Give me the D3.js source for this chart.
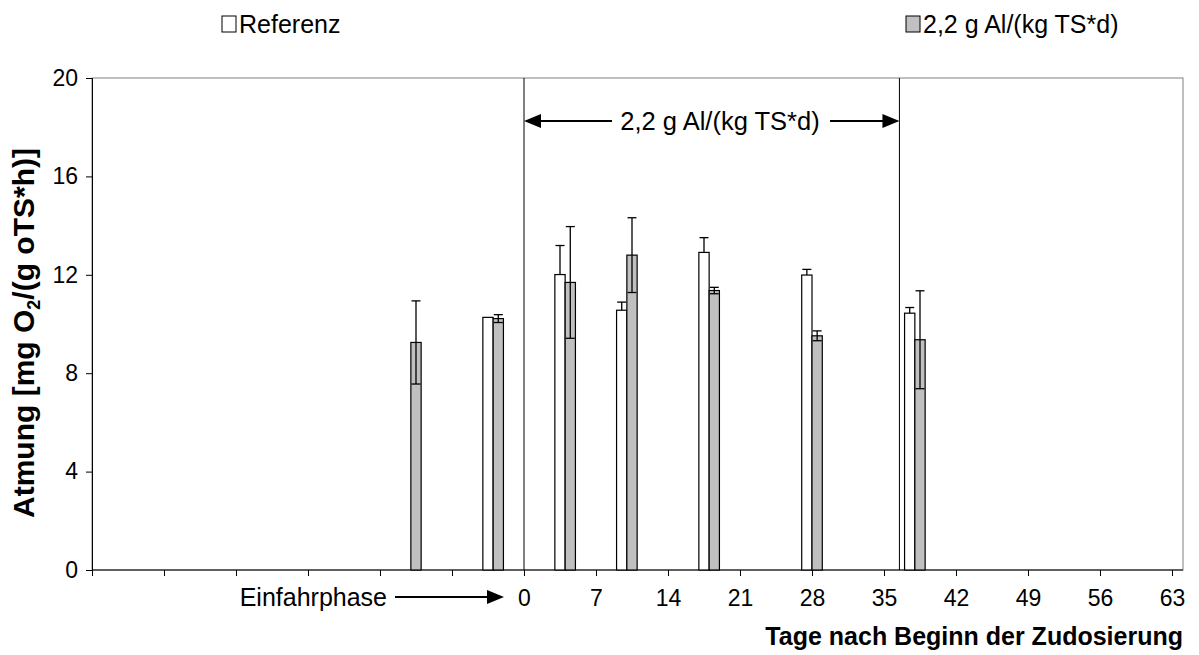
<!DOCTYPE html>
<html>
<head>
<meta charset="utf-8">
<script src="https://cdn.jsdelivr.net/npm/d3@7"></script>
<style>
  body { margin: 0; background: #fff; }
  text { font-family: Arial, "Liberation Sans", sans-serif; fill: #000; }
</style>
</head>
<body>
<script>
// sampling days (days relative to start of dosing)
var days = [-11, -3, 4, 10, 18, 28, 38];
// respiration, reference reactor
var refValues = [null, 10.27, 12.01, 10.56, 12.91, 11.99, 10.44];
var refErr = [null, 0, 1.18, 0.33, 0.60, 0.23, 0.23];
// respiration, 2,2 g Al/(kg TS*d)
var alValues = [9.25, 10.22, 11.69, 12.80, 11.36, 9.52, 9.36];
var alErr = [1.69, 0.16, 2.27, 1.52, 0.13, 0.20, 1.99];

var xTicks = [-42, -35, -28, -21, -14, -7, 0, 7, 14, 21, 28, 35, 42, 49, 56, 63];
var yTicks = [0, 4, 8, 12, 16, 20];
var seriesNames = ["Referenz", "2,2 g Al/(kg TS*d)"];
var dosingStart = 0, dosingEnd = 36.5;

var W = 1199, H = 655;
var plotLeft = 92, plotRight = 1183, plotTop = 78, plotBottom = 570;

var svg = d3.select("body").append("svg")
    .attr("width", W)
    .attr("height", H);

var x = d3.scaleLinear().domain([-42, 63]).range([plotLeft, 1172]);
var y = d3.scaleLinear().domain([0, 20]).range([plotBottom, plotTop]);

// plot area frame
svg.append("rect")
    .attr("x", plotLeft).attr("y", plotTop)
    .attr("width", plotRight - plotLeft).attr("height", plotBottom - plotTop)
    .attr("fill", "none").attr("stroke", "#808080").attr("stroke-width", 1);

// y axis
var yAxis = svg.append("g")
    .attr("transform", "translate(" + plotLeft + ",0)")
    .call(d3.axisLeft(y).tickValues(yTicks).tickSize(6).tickPadding(8));
yAxis.select(".domain").attr("stroke", "#000");
yAxis.selectAll("text").style("font-size", "23px");

// x axis
var xAxis = svg.append("g")
    .attr("transform", "translate(0," + plotBottom + ")")
    .call(d3.axisBottom(x).tickValues(xTicks).tickSize(6).tickPadding(14)
        .tickFormat(function(d) { return d < 0 ? "" : d; }));
xAxis.select(".domain").attr("d", "M" + plotLeft + ",0H" + plotRight).attr("stroke", "#000");
xAxis.selectAll("text").style("font-size", "23px");

// dosing period lines
svg.selectAll(".phase")
    .data([dosingStart, dosingEnd])
  .enter().append("line")
    .attr("x1", function(d) { return x(d); })
    .attr("x2", function(d) { return x(d); })
    .attr("y1", plotTop).attr("y2", plotBottom)
    .attr("stroke", "#000").attr("stroke-width", 1);

// bars
var rows = days.map(function(d, i) {
    return {day: d, ref: refValues[i], refErr: refErr[i], al: alValues[i], alErr: alErr[i]};
});

svg.selectAll(".ref")
    .data(rows.filter(function(d) { return d.ref != null; }))
  .enter().append("rect")
    .attr("x", function(d) { return x(d.day - 1); })
    .attr("width", function(d) { return x(d.day) - x(d.day - 1); })
    .attr("y", function(d) { return y(d.ref); })
    .attr("height", function(d) { return y(0) - y(d.ref); })
    .attr("fill", "#fff").attr("stroke", "#000").attr("stroke-width", 1.2);

svg.selectAll(".al")
    .data(rows)
  .enter().append("rect")
    .attr("x", function(d) { return x(d.day); })
    .attr("width", function(d) { return x(d.day + 1) - x(d.day); })
    .attr("y", function(d) { return y(d.al); })
    .attr("height", function(d) { return y(0) - y(d.al); })
    .attr("fill", "#c0c0c0").attr("stroke", "#000").attr("stroke-width", 1.2);

// error bars: reference only upward, Al both ways
var errs = [];
rows.forEach(function(d) {
    if (d.ref != null && d.refErr > 0)
        errs.push({cx: x(d.day - 0.5), lo: d.ref, hi: d.ref + d.refErr});
    errs.push({cx: x(d.day + 0.5), lo: d.al - d.alErr, hi: d.al + d.alErr, mid: d.al});
});
var eg = svg.append("g").attr("stroke", "#000").attr("stroke-width", 1.3);
errs.forEach(function(e) {
    eg.append("line").attr("x1", e.cx).attr("x2", e.cx).attr("y1", y(e.lo)).attr("y2", y(e.hi));
    eg.append("line").attr("x1", e.cx - 4.5).attr("x2", e.cx + 4.5).attr("y1", y(e.hi)).attr("y2", y(e.hi));
    if (e.mid != null)
        eg.append("line").attr("x1", e.cx - 4.5).attr("x2", e.cx + 4.5).attr("y1", y(e.lo)).attr("y2", y(e.lo));
});

// arrow helper
function arrowHead(tipX, yy, dir) {
    svg.append("path")
        .attr("d", "M" + tipX + "," + yy + "L" + (tipX - dir * 17) + "," + (yy - 7) +
                   "L" + (tipX - dir * 17) + "," + (yy + 7) + "Z")
        .attr("fill", "#000");
}

// dosing annotation
var annY = 121;
svg.append("line").attr("x1", x(dosingStart) + 10).attr("x2", 612)
    .attr("y1", annY).attr("y2", annY).attr("stroke", "#000").attr("stroke-width", 2);
svg.append("line").attr("x1", 830).attr("x2", x(dosingEnd) - 10)
    .attr("y1", annY).attr("y2", annY).attr("stroke", "#000").attr("stroke-width", 2);
arrowHead(x(dosingStart), annY, -1);
arrowHead(x(dosingEnd), annY, 1);
svg.append("text")
    .attr("x", 720).attr("y", annY + 9)
    .attr("text-anchor", "middle")
    .style("font-size", "25.5px")
    .text(seriesNames[1]);

// Einfahrphase annotation
var einY = 597;
svg.append("text")
    .attr("x", 387).attr("y", einY + 9)
    .attr("text-anchor", "end")
    .style("font-size", "25px")
    .text("Einfahrphase");
svg.append("line").attr("x1", 395).attr("x2", 495)
    .attr("y1", einY).attr("y2", einY).attr("stroke", "#000").attr("stroke-width", 2);
arrowHead(504, einY, 1);

// axis titles
svg.append("text")
    .attr("transform", "translate(34," + 333 + ") rotate(-90)")
    .attr("text-anchor", "middle")
    .style("font-size", "30px").style("font-weight", "bold")
    .html('Atmung [mg O<tspan dy="6" style="font-size:18px">2</tspan><tspan dy="-6">/(g oTS*h)]</tspan>');

svg.append("text")
    .attr("x", plotRight).attr("y", 645)
    .attr("text-anchor", "end")
    .style("font-size", "25px").style("font-weight", "bold")
    .text("Tage nach Beginn der Zudosierung");

// legend
var legend = svg.selectAll(".legend")
    .data([{name: seriesNames[0], fill: "#fff", x: 222}, {name: seriesNames[1], fill: "#c0c0c0", x: 906}])
  .enter().append("g")
    .attr("transform", function(d) { return "translate(" + d.x + ",16)"; });
legend.append("rect")
    .attr("width", 14).attr("height", 16)
    .attr("fill", function(d) { return d.fill; })
    .attr("stroke", "#000").attr("stroke-width", 1);
legend.append("text")
    .attr("x", 17).attr("y", 17)
    .style("font-size", "25px")
    .text(function(d) { return d.name; });
</script>
</body>
</html>
